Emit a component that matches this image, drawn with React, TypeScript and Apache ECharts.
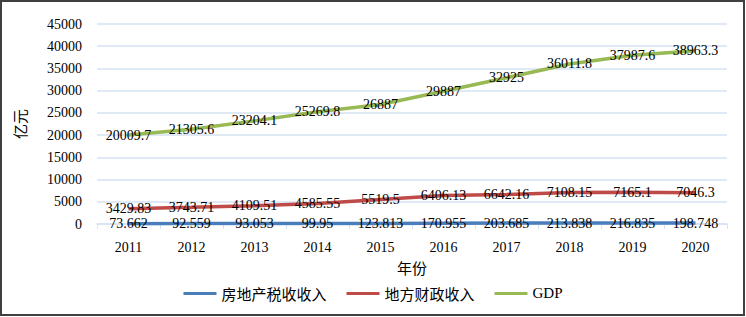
import React, { useEffect, useRef } from "react";
import * as echarts from "echarts";

const years = ["2011", "2012", "2013", "2014", "2015", "2016", "2017", "2018", "2019", "2020"];
const propertyTax = [73.662, 92.559, 93.053, 99.95, 123.813, 170.955, 203.685, 213.838, 216.835, 198.748];
const localRevenue = [3429.83, 3743.71, 4109.51, 4585.55, 5519.5, 6406.13, 6642.16, 7108.15, 7165.1, 7046.3];
const gdp = [20009.7, 21305.6, 23204.1, 25269.8, 26887, 29887, 32925, 36011.8, 37987.6, 38963.3];

const SERIF = "Liberation Serif";
const CJK = "Noto Sans CJK SC";

export default function App() {
  const ref = useRef<HTMLDivElement>(null);
  useEffect(() => {
    const chart = echarts.init(ref.current!, null, { renderer: "svg" });
    const mkSeries = (name: string, data: number[], color: string) => ({
      name,
      type: "line",
      data,
      symbol: "circle",
      symbolSize: 0,
      showSymbol: true,
      lineStyle: { color, width: 3.5 },
      itemStyle: { color },
      label: {
        show: true,
        position: "inside",
        color: "#000",
        fontFamily: SERIF,
        fontSize: 14,
        formatter: (p: any) => String(p.value),
      },
      emphasis: { disabled: true },
    });
    chart.setOption({
      animation: false,
      graphic: [
        {
          type: "rect",
          shape: { x: 1, y: 1, width: 743, height: 314 },
          style: { fill: "none", stroke: "#404040", lineWidth: 2 },
          silent: true,
        },
      ],
      grid: { left: 97, right: 19, top: 24, bottom: 93 },
      legend: {
        bottom: 11,
        left: "center",
        icon: "rect",
        itemWidth: 33,
        itemHeight: 3,
        itemGap: 20,
        textStyle: { fontFamily: CJK, fontSize: 15, color: "#000" },
        data: [
          { name: "房地产税收收入" },
          { name: "地方财政收入" },
          { name: "GDP", textStyle: { fontFamily: SERIF, fontSize: 15 } },
        ],
      },
      xAxis: {
        type: "category",
        data: years,
        boundaryGap: true,
        name: "年份",
        nameLocation: "middle",
        nameGap: 36,
        nameTextStyle: { fontFamily: CJK, fontSize: 15, color: "#000" },
        axisLine: { lineStyle: { color: "#d6e3f3", width: 1.5 } },
        axisTick: { show: true, length: 5, lineStyle: { color: "#d6e3f3" } },
        axisLabel: { margin: 16, fontFamily: SERIF, fontSize: 14, color: "#000" },
      },
      yAxis: {
        type: "value",
        min: 0,
        max: 45000,
        interval: 5000,
        name: "亿元",
        nameLocation: "middle",
        nameRotate: 90,
        nameGap: 70,
        nameTextStyle: { fontFamily: CJK, fontSize: 15, color: "#000" },
        axisLine: { show: false },
        axisTick: { show: false },
        axisLabel: {
          margin: 15,
          fontFamily: SERIF,
          fontSize: 14,
          color: "#000",
          formatter: (v: number) => String(v),
        },
        splitLine: { lineStyle: { color: "#d6e3f3", width: 1.5 } },
      },
      series: [
        mkSeries("房地产税收收入", propertyTax, "#4a7ebb"),
        mkSeries("地方财政收入", localRevenue, "#be4b48"),
        mkSeries("GDP", gdp, "#98b954"),
      ],
    });
    return () => chart.dispose();
  }, []);
  return (
    <div
      ref={ref}
      style={{ position: "absolute", left: 0, top: 0, width: 746, height: 317, background: "#fff" }}
    />
  );
}
